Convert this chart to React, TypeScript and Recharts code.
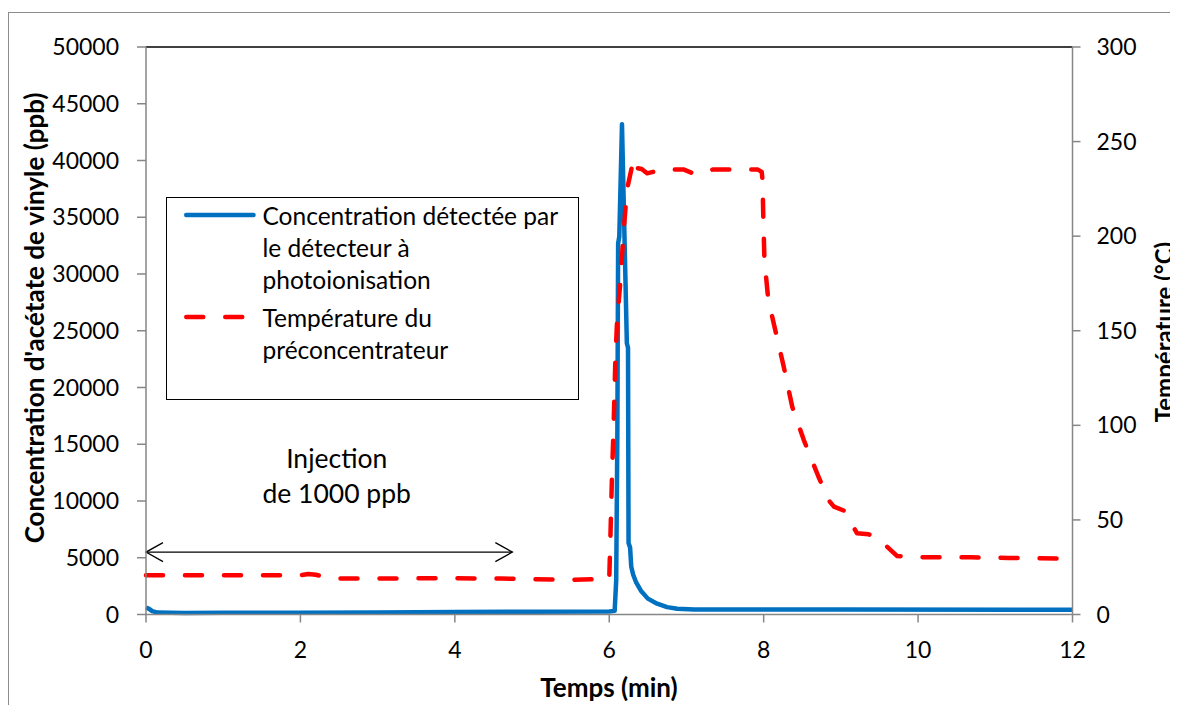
import React from "react";
import {
  ComposedChart,
  Line,
  XAxis,
  YAxis,
  Legend,
  ReferenceLine,
  ReferenceDot,
} from "recharts";

const FONT = "Lato, 'Open Sans', sans-serif";
const AXIS_GREY = "#868686";
const BLUE = "#0070C0";
const RED = "#FF0000";

// concentration measured by the PID (min, ppb)
const concTime = [
  0, 0.04, 0.08, 0.15, 0.5, 1, 2, 3, 4, 5, 6, 6.07, 6.09, 6.105, 6.115, 6.13,
  6.165, 6.228, 6.243, 6.25, 6.27, 6.285, 6.31, 6.35, 6.41, 6.5, 6.62, 6.75,
  6.88, 7.1, 7.5, 9, 12,
];
const concPpb = [
  620, 500, 300, 170, 140, 145, 160, 185, 215, 240, 270, 320, 3000, 16000, 32700,
  33300, 43200, 23900, 23500, 6300, 5900, 4200, 3500, 2800, 2100, 1400, 950, 650,
  500, 450, 440, 430, 420,
];

// preconcentrator temperature (min, °C)
const tempTime = [
  0, 2, 2.1, 2.2, 2.35, 2.45, 3.4, 3.6, 4.6, 5, 5.5, 5.8, 6, 6.013, 6.035, 6.056,
  6.078, 6.1, 6.142, 6.185, 6.229, 6.29, 6.337, 6.36, 6.42, 6.49, 6.7, 6.96,
  7.11, 7.35, 7.63, 7.92, 7.975, 7.985, 7.995, 8.01, 8.06, 8.15, 8.26, 8.37,
  8.52, 8.71, 8.85, 8.91, 9.04, 9.21, 9.36, 9.5, 9.6, 9.73, 10.13, 10.68, 11.17,
  12,
];
const tempC = [
  20.8, 20.8, 21.4, 21.0, 19.6, 19.0, 19.1, 19.2, 19.0, 18.7, 18.4, 18.6, 18.8,
  37.8, 72.7, 99, 132.9, 154, 175.2, 201.7, 224.4, 236, 241.2, 236, 235.5, 233.2,
  235.3, 235.3, 232.8, 235.3, 235.3, 235.3, 234, 229.7, 210.3, 187.4, 166.3,
  150.4, 131, 109.8, 92.2, 72.8, 60, 57, 54.9, 42.9, 42.4, 40, 35.8, 30.9, 30.2,
  30.2, 29.9, 29.5,
];

const xTicks = [0, 2, 4, 6, 8, 10, 12];
const concTicks = [0, 5000, 10000, 15000, 20000, 25000, 30000, 35000, 40000, 45000, 50000];
const tempTicks = [0, 50, 100, 150, 200, 250, 300];

const legendLines = [
  ["Concentration détectée par", "le détecteur à", "photoionisation"],
  ["Température du", "préconcentrateur"],
];
const seriesNames = legendLines.map((l) => l.join(" "));

const xTitle = "Temps (min)";
const leftTitle = "Concentration d'acétate de vinyle (ppb)";
const rightTitle = "Température (°C)";

const injectionArrow = { from: 0, to: 4.745, level: 5500 };
const injectionLabel = { t: 2.47, level: 12250, lines: ["Injection", "de 1000 ppb"] };

const concData = concTime.map((t, i) => ({ t, ppb: concPpb[i] }));
const tempData = tempTime.map((t, i) => ({ t, temp: tempC[i] }));

const tickStyle = { fontSize: 23, fill: "#000", fontFamily: FONT };
const titleStyle = { fontSize: 26, fontWeight: 700, fill: "#000", fontFamily: FONT };

const LeftTitle = () => {
  const x = 26;
  const y = 310;
  return (
    <text x={x} y={y} transform={`rotate(-90, ${x}, ${y})`} textAnchor="middle" dominantBaseline="central" style={titleStyle}>
      {leftTitle}
    </text>
  );
};

const RightTitle = () => {
  const x = 1155;
  const y = 324;
  return (
    <text
      x={x}
      y={y}
      transform={`rotate(-90, ${x}, ${y})`}
      textAnchor="middle"
      dominantBaseline="central"
      style={{ ...titleStyle, fontSize: 24 }}
    >
      {rightTitle}
    </text>
  );
};

const BottomTitle = () => (
  <text x={601} y={679} textAnchor="middle" dominantBaseline="central" style={titleStyle}>
    {xTitle}
  </text>
);

// double headed arrow under the injection text
const Arrow = (props: any) => {
  const { x1, y1, x2, y2 } = props;
  const hx = 17;
  const hy = 9.5;
  return (
    <g stroke="#000" strokeWidth={1.3} fill="none">
      <line x1={x1} y1={y1} x2={x2} y2={y2} />
      <polyline points={`${x1 + hx},${y1 - hy} ${x1},${y1} ${x1 + hx},${y1 + hy}`} />
      <polyline points={`${x2 - hx},${y2 - hy} ${x2},${y2} ${x2 - hx},${y2 + hy}`} />
    </g>
  );
};

const InjectionText = (props: any) => {
  const { cx, cy } = props;
  return (
    <g>
      {injectionLabel.lines.map((line, i) => (
        <text
          key={line}
          x={cx}
          y={cy + (i - 0.5) * 35}
          textAnchor="middle"
          dominantBaseline="central"
          style={{ fontSize: 26.5, fill: "#000", fontFamily: FONT }}
        >
          {line}
        </text>
      ))}
    </g>
  );
};

const renderLegend = () => (
  <div
    style={{
      width: 413,
      height: 203,
      boxSizing: "border-box",
      border: "1.5px solid #000",
      background: "#fff",
      paddingTop: 2,
      fontFamily: FONT,
      fontSize: 24.5,
      color: "#000",
      lineHeight: "32px",
    }}
  >
    {legendLines.map((lines, i) => (
      <div key={seriesNames[i]} style={{ display: "flex", marginTop: i ? 6 : 0 }}>
        <svg width={78} height={32} style={{ marginLeft: 17.8, flex: "none" }}>
          <line
            x1={2.25}
            x2={69.5}
            y1={15}
            y2={15}
            stroke={i ? RED : BLUE}
            strokeWidth={4.5}
            strokeLinecap="round"
            strokeDasharray={i ? "17 22" : undefined}
          />
        </svg>
        <div>
          {lines.map((l) => (
            <div key={l} style={{ whiteSpace: "nowrap" }}>
              {l}
            </div>
          ))}
        </div>
      </div>
    ))}
  </div>
);

export default function App() {
  return (
    <div style={{ position: "relative", width: 1170, height: 697, overflow: "hidden", background: "#fff" }}>
      <div
        style={{
          position: "absolute",
          left: 0,
          top: 4,
          width: 1300,
          height: 800,
          border: "1.5px solid #8c8c8c",
        }}
      />
      <div style={{ position: "absolute", left: 0, top: 0 }}>
        <ComposedChart width={1170} height={697} margin={{ top: 39, right: 5, bottom: 0, left: 0 }}>
          <XAxis
            dataKey="t"
            type="number"
            domain={[0, 12]}
            ticks={xTicks}
            interval={0}
            height={90.5}
            tickSize={8}
            tickMargin={19}
            axisLine={{ stroke: AXIS_GREY, strokeWidth: 1.5 }}
            tickLine={{ stroke: AXIS_GREY, strokeWidth: 1.5 }}
            tick={tickStyle}
            label={{ content: BottomTitle }}
          />
          <YAxis
            yAxisId="left"
            type="number"
            domain={[0, 50000]}
            ticks={concTicks}
            interval={0}
            width={138}
            tickSize={9}
            tickMargin={18}
            axisLine={{ stroke: AXIS_GREY, strokeWidth: 1.5 }}
            tickLine={{ stroke: AXIS_GREY, strokeWidth: 1.5 }}
            tick={tickStyle}
            label={{ content: LeftTitle }}
          />
          <YAxis
            yAxisId="right"
            orientation="right"
            type="number"
            domain={[0, 300]}
            ticks={tempTicks}
            interval={0}
            width={100.5}
            tickSize={8}
            tickMargin={16}
            axisLine={{ stroke: AXIS_GREY, strokeWidth: 1.5 }}
            tickLine={{ stroke: AXIS_GREY, strokeWidth: 1.5 }}
            tick={tickStyle}
            label={{ content: RightTitle }}
          />
          <ReferenceLine yAxisId="left" y={50000} stroke="#000" strokeWidth={1.3} />
          <Line
            yAxisId="left"
            data={concData}
            dataKey="ppb"
            name={seriesNames[0]}
            type="linear"
            stroke={BLUE}
            strokeWidth={4.5}
            strokeLinejoin="round"
            dot={false}
            isAnimationActive={false}
          />
          <Line
            yAxisId="right"
            data={tempData}
            dataKey="temp"
            name={seriesNames[1]}
            type="linear"
            stroke={RED}
            strokeWidth={4.5}
            strokeDasharray="17 22"
            strokeLinecap="round"
            strokeLinejoin="round"
            dot={false}
            isAnimationActive={false}
          />
          <ReferenceLine
            yAxisId="left"
            segment={[
              { x: injectionArrow.from, y: injectionArrow.level },
              { x: injectionArrow.to, y: injectionArrow.level },
            ]}
            shape={Arrow}
          />
          <ReferenceDot
            yAxisId="left"
            x={injectionLabel.t}
            y={injectionLabel.level}
            r={0}
            shape={InjectionText}
          />
          <Legend
            layout="vertical"
            align="center"
            verticalAlign="middle"
            content={renderLegend}
            wrapperStyle={{ left: 157.7, top: 189.3, width: "auto", height: "auto" }}
          />
        </ComposedChart>
      </div>
    </div>
  );
}
